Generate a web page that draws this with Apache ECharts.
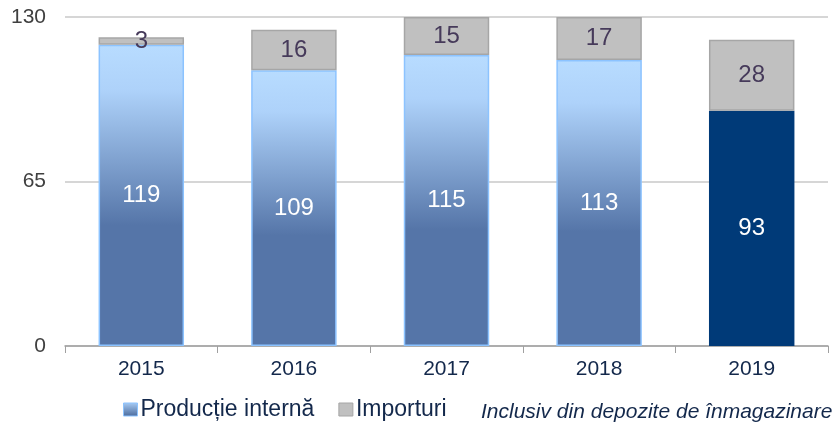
<!DOCTYPE html>
<html>
<head>
<meta charset="utf-8">
<script src="https://cdn.jsdelivr.net/npm/echarts@6/dist/echarts.min.js"></script>
<style>
  html, body { margin: 0; padding: 0; background: #fff; }
  #chart { width: 837px; height: 427px; }
</style>
</head>
<body>
<div id="chart"></div>
<script>
const years = ['2015', '2016', '2017', '2018', '2019'];
const productie = [119, 109, 115, 113, 93];
const importuri = [3, 16, 15, 17, 28];
const yTicks = [0, 65, 130];

const FONT = '"Liberation Sans", Arial, sans-serif';
const NAVY = '#13284b';

const blueGrad = new echarts.graphic.LinearGradient(0, 0, 0, 1, [
    { offset: 0, color: '#b8dcff' },
    { offset: 0.15, color: '#aed2fa' },
    { offset: 0.6, color: '#5575a8' },
    { offset: 1, color: '#5575a8' }
]);

const legendGrad = new echarts.graphic.LinearGradient(0, 0, 0, 1, [
    { offset: 0, color: '#a8ccf5' },
    { offset: 1, color: '#4a6a9c' }
]);

// last year drawn in solid dark blue
const prodData = productie.map((v, i) => i === productie.length - 1
    ? { value: v, itemStyle: { color: '#003a78', borderColor: '#003a78' } }
    : v);

const chart = echarts.init(document.getElementById('chart'));
chart.setOption({
    animation: false,
    textStyle: { fontFamily: FONT },
    grid: { left: 65, right: 9, top: 17, bottom: 81 },
    legend: {
        bottom: 1,
        left: 118,
        itemWidth: 14,
        itemHeight: 13,
        itemGap: 24,
        textStyle: { fontSize: 23, color: NAVY, fontFamily: FONT, padding: [0, 0, 0, -2] },
        data: [
            { name: 'Producție internă', icon: 'rect', itemStyle: { color: legendGrad, borderColor: '#8cc3ff', borderWidth: 1 } },
            { name: 'Importuri', icon: 'rect', itemStyle: { color: '#c0c0c0', borderColor: '#a6a6a6', borderWidth: 1 } }
        ]
    },
    graphic: [{
        type: 'text',
        left: 481,
        top: 402,
        style: {
            text: 'Inclusiv din depozite de înmagazinare',
            fill: NAVY,
            font: 'italic 21px ' + FONT
        }
    }],
    xAxis: {
        type: 'category',
        data: years,
        axisLine: { lineStyle: { color: '#a0a0a0', width: 1.5 } },
        axisTick: { show: true, alignWithLabel: false, length: 7, lineStyle: { color: '#a0a0a0' } },
        axisLabel: { color: NAVY, fontSize: 21, margin: 13 }
    },
    yAxis: {
        type: 'value',
        min: yTicks[0],
        max: yTicks[yTicks.length - 1],
        interval: 65,
        axisLine: { show: false },
        axisTick: { show: false },
        axisLabel: { color: '#404040', fontSize: 21, margin: 19 },
        splitLine: { lineStyle: { color: '#c8c8c8', width: 1.5 } }
    },
    series: [
        {
            name: 'Producție internă',
            type: 'bar',
            stack: 'total',
            barWidth: '56%',
            data: prodData,
            itemStyle: { color: blueGrad, borderColor: '#8cc3ff', borderWidth: 1.5 },
            label: { show: true, position: 'inside', color: '#ffffff', fontSize: 24 }
        },
        {
            name: 'Importuri',
            type: 'bar',
            stack: 'total',
            data: importuri,
            itemStyle: { color: '#c0c0c0', borderColor: '#a6a6a6', borderWidth: 1.5 },
            label: { show: true, position: 'inside', color: '#463a5a', fontSize: 24 }
        }
    ]
});
</script>
</body>
</html>
